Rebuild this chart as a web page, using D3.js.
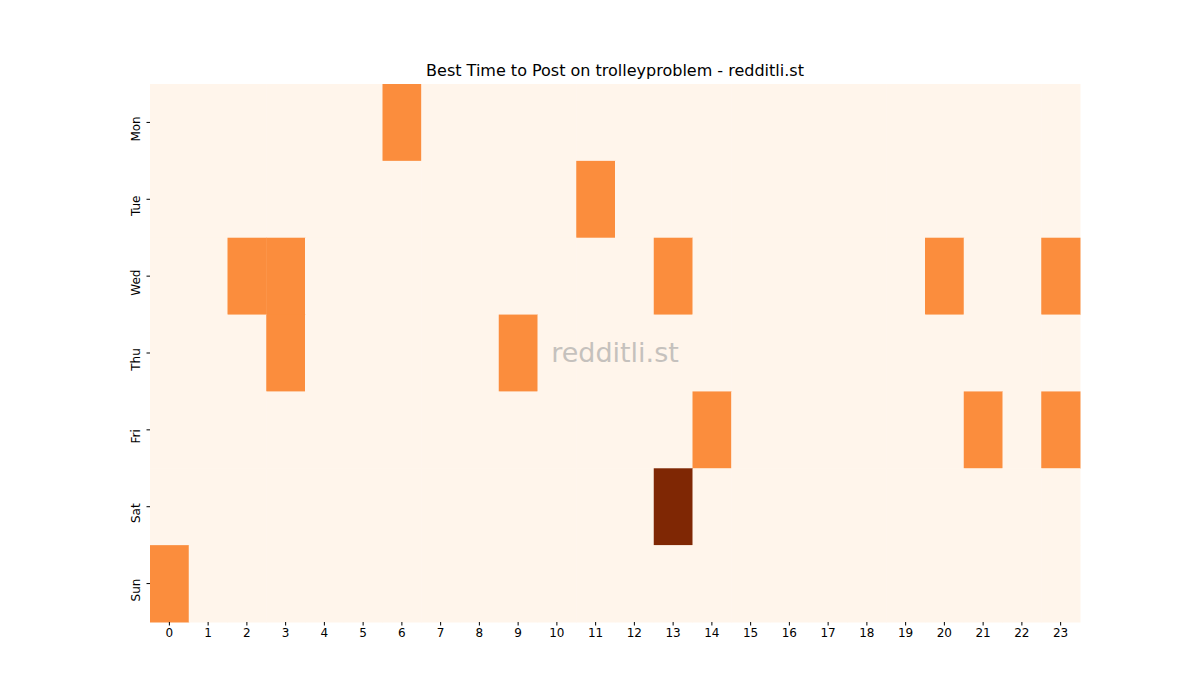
<!DOCTYPE html>
<html><head><meta charset="utf-8">
<script src="https://cdn.jsdelivr.net/npm/d3@7"></script>
<style>body{margin:0;background:#fff}text{font-family:"DejaVu Sans",sans-serif}</style>
</head><body>
<div id="chart"></div>
<script>
const days = ["Mon", "Tue", "Wed", "Thu", "Fri", "Sat", "Sun"];
const hours = d3.range(24);
// non-zero cells: [day, hour, value]
const hot = [
  ["Mon", 6, 1], ["Tue", 11, 1],
  ["Wed", 2, 1], ["Wed", 3, 1], ["Wed", 13, 1], ["Wed", 20, 1], ["Wed", 23, 1],
  ["Thu", 3, 1], ["Thu", 9, 1],
  ["Fri", 14, 1], ["Fri", 21, 1], ["Fri", 23, 1],
  ["Sat", 13, 2], ["Sun", 0, 1]
];

const W = 1200, H = 700;
const m = {left: 150, right: 120, top: 84, bottom: 78};

const cells = [];
days.forEach(d => hours.forEach(h => {
  const f = hot.find(c => c[0] === d && c[1] === h);
  cells.push({day: d, hour: h, value: f ? f[2] : 0});
}));

const svg = d3.select("#chart").append("svg").attr("width", W).attr("height", H);
const x = d3.scaleBand().domain(hours).range([m.left, W - m.right]);
const y = d3.scaleBand().domain(days).range([m.top, H - m.bottom]);
const color = v => d3.interpolateOranges(v / 2);

svg.append("g").selectAll("rect").data(cells).join("rect")
  .attr("x", d => x(d.hour)).attr("y", d => y(d.day))
  .attr("width", x.bandwidth() + 0.5).attr("height", y.bandwidth() + 0.5)
  .attr("fill", d => color(d.value));

const xa = svg.append("g").attr("transform", `translate(0,${H - m.bottom})`)
  .call(d3.axisBottom(x).tickSize(3.5).tickPadding(3));
const ya = svg.append("g").attr("transform", `translate(${m.left},0)`)
  .call(d3.axisLeft(y).tickSize(3.5).tickPadding(3));
[xa, ya].forEach(a => { a.select(".domain").remove(); a.selectAll("text").attr("font-size", 12).attr("fill", "#000"); a.selectAll("line").attr("stroke", "#000"); });
ya.selectAll(".tick text").attr("text-anchor", "middle").attr("dy", 0)
  .attr("transform", "translate(-10,0) rotate(-90)");

svg.append("text").attr("x", (m.left + W - m.right) / 2).attr("y", 76)
  .attr("text-anchor", "middle").attr("font-size", 16).text("Best Time to Post on trolleyproblem - redditli.st");

svg.append("text").attr("x", 615).attr("y", 362).attr("text-anchor", "middle")
  .attr("font-size", 27).attr("fill", "#a0a0a0").attr("opacity", 0.6).text("redditli.st");
</script>
</body></html>
